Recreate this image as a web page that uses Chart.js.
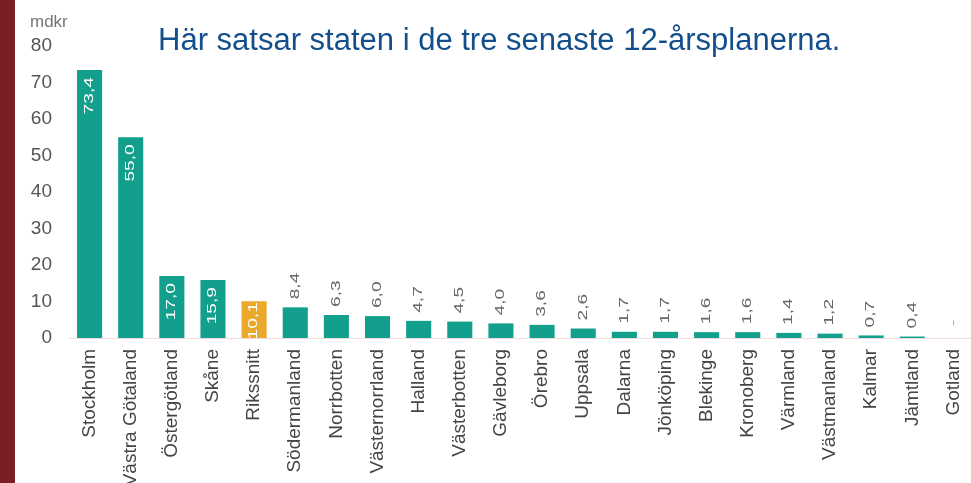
<!DOCTYPE html>
<html>
<head>
<meta charset="utf-8">
<script src="https://cdn.jsdelivr.net/npm/chart.js@4.4.1/dist/chart.umd.min.js"></script>
<style>
  html, body { margin: 0; padding: 0; background: #fff; overflow: hidden; }
  body { width: 971px; height: 483px; position: relative; }
  #sidebar { position: absolute; left: 0; top: 0; width: 15px; height: 483px; background: #7a1f24; }
  #wrap { position: absolute; left: 0; top: 0; width: 990px; height: 483px; }
  #title { position: absolute; left: 158px; top: 24px; font: 31px/31px "Liberation Sans", Arial, sans-serif; color: #144f8c; white-space: nowrap; }
  #unit { position: absolute; left: 30px; top: 13px; font: 17px/17px "Liberation Sans", Arial, sans-serif; color: #777; }
</style>
</head>
<body>
<div id="wrap"><canvas id="chart" width="990" height="483"></canvas></div>
<div id="sidebar"></div>
<div id="unit">mdkr</div>
<div id="title">Här satsar staten i de tre senaste 12-årsplanerna.</div>
<script>
// Data
const regions = ['Stockholm', 'Västra Götaland', 'Östergötland', 'Skåne', 'Rikssnitt', 'Södermanland',
    'Norrbotten', 'Västernorrland', 'Halland', 'Västerbotten', 'Gävleborg', 'Örebro', 'Uppsala',
    'Dalarna', 'Jönköping', 'Blekinge', 'Kronoberg', 'Värmland', 'Västmanland', 'Kalmar', 'Jämtland', 'Gotland'];
const amounts = [73.4, 55.0, 17.0, 15.9, 10.1, 8.4, 6.3, 6.0, 4.7, 4.5, 4.0, 3.6, 2.6,
    1.7, 1.7, 1.6, 1.6, 1.4, 1.2, 0.7, 0.4, null];
const yTicks = [0, 10, 20, 30, 40, 50, 60, 70, 80];

const teal = '#12a08c';
const gold = '#eaa92a';
const barColors = regions.map(r => r === 'Rikssnitt' ? gold : teal);

function fmt(v) {
    if (v === null) return '-';
    return v.toFixed(1).replace('.', ',');
}

// value labels, rotated and a bit stretched like in the original
const valueLabels = {
    id: 'valueLabels',
    afterDatasetsDraw(chart) {
        const ctx = chart.ctx;
        const meta = chart.getDatasetMeta(0);
        const sx = 1.6;
        ctx.save();
        ctx.font = '12px "Liberation Sans", Arial, sans-serif';
        ctx.textBaseline = 'middle';
        meta.data.forEach((bar, i) => {
            const v = amounts[i];
            const txt = fmt(v);
            const top = v === null ? bar.base : bar.y;
            const h = bar.base - top;
            const len = ctx.measureText(txt).width * sx;
            ctx.save();
            ctx.translate(bar.x, top);
            ctx.rotate(-Math.PI / 2);
            ctx.scale(sx, 1);
            if (v !== null && v >= 10) {
                const pad = Math.min(7, Math.max(1, (h - len) / 2));
                ctx.fillStyle = '#ffffff';
                ctx.textAlign = 'right';
                ctx.fillText(txt, -pad / sx, 0);
            } else {
                ctx.fillStyle = v === null ? '#aaaaaa' : '#666666';
                ctx.textAlign = 'left';
                ctx.fillText(txt, (v === null ? 12 : 8) / sx, 0);
            }
            ctx.restore();
        });
        ctx.restore();
    }
};

new Chart(document.getElementById('chart'), {
    type: 'bar',
    data: {
        labels: regions,
        datasets: [{
            data: amounts,
            backgroundColor: barColors,
            barPercentage: 0.61,
            categoryPercentage: 1.0
        }]
    },
    options: {
        responsive: false,
        animation: false,
        layout: { padding: { top: 46, left: 0, right: 16, bottom: 0 } },
        plugins: { legend: { display: false }, tooltip: { enabled: false } },
        scales: {
            x: {
                afterFit: scale => { scale.height = 145; },
                grid: { display: false, drawTicks: false },
                border: { display: true, color: '#f0dde0', width: 1 },
                ticks: {
                    color: '#444',
                    font: { family: '"Liberation Sans", Arial, sans-serif', size: 19 },
                    minRotation: 90,
                    maxRotation: 90,
                    autoSkip: false,
                    padding: 11
                }
            },
            y: {
                min: 0,
                max: 80,
                afterFit: scale => { scale.width = 69; },
                afterBuildTicks: scale => { scale.ticks = yTicks.map(v => ({ value: v })); },
                grid: { display: false, drawTicks: false },
                border: { display: false },
                ticks: {
                    color: '#555',
                    font: { family: '"Liberation Sans", Arial, sans-serif', size: 19 },
                    padding: 17
                }
            }
        }
    },
    plugins: [valueLabels]
});
</script>
</body>
</html>
